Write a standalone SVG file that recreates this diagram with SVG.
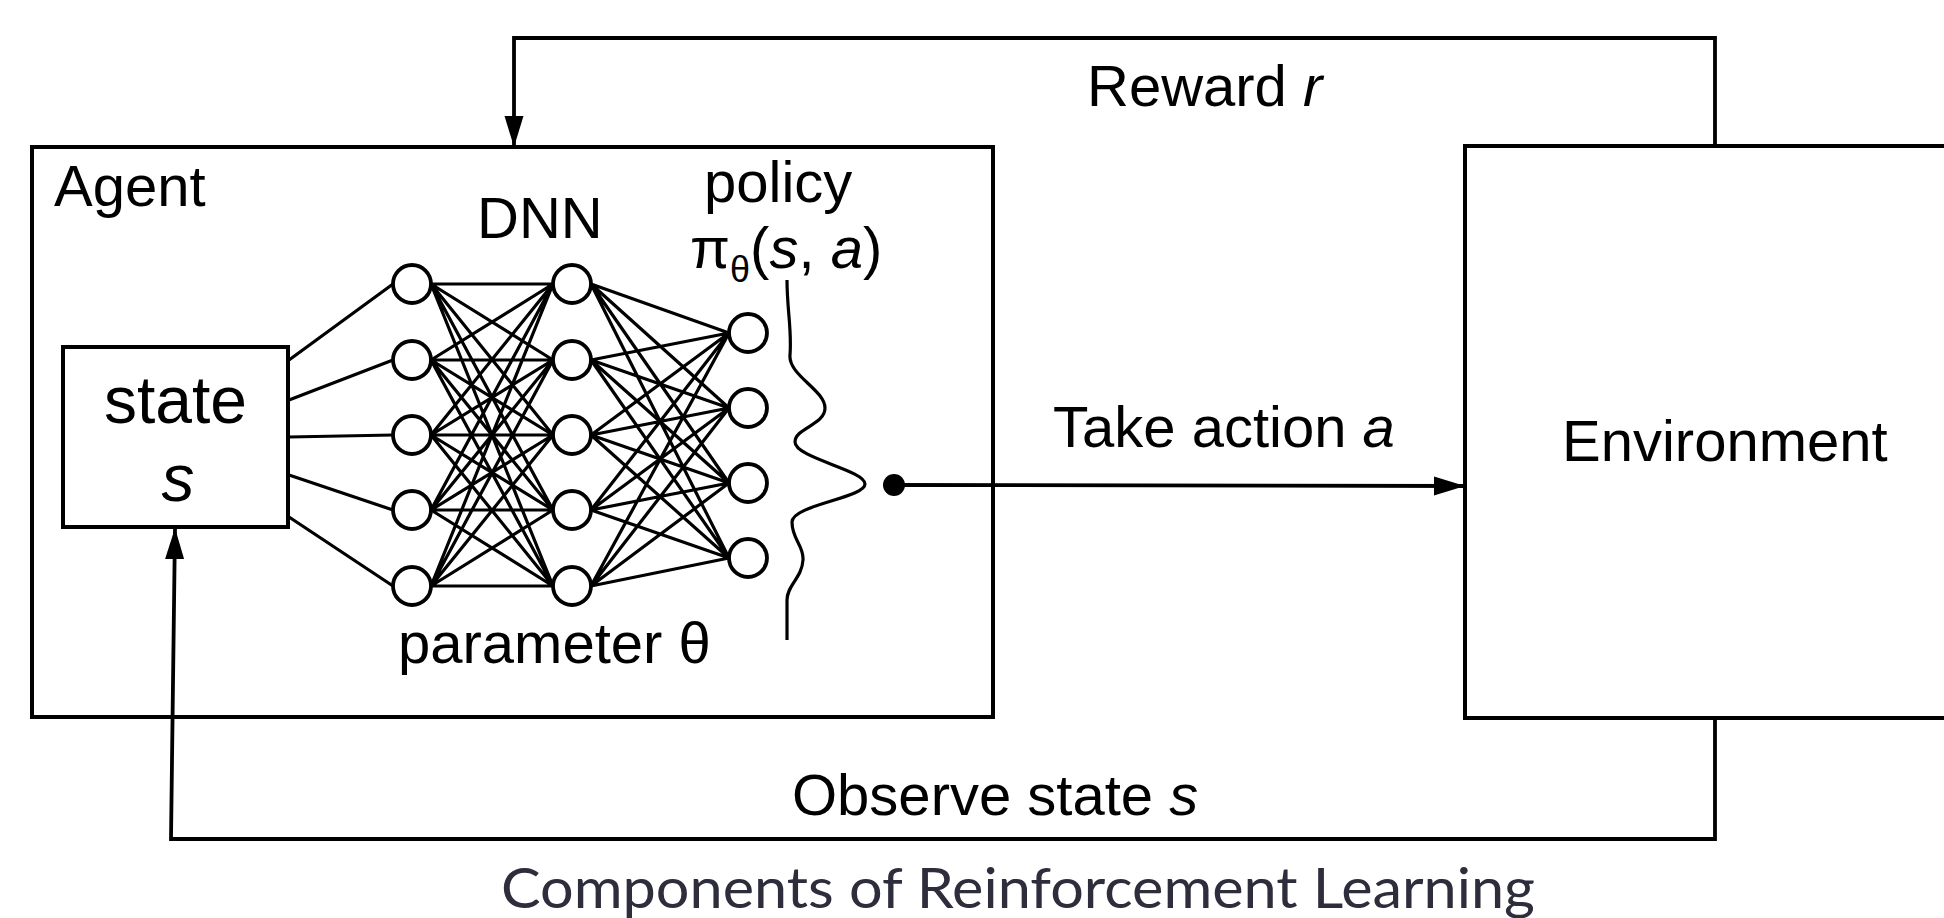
<svg xmlns="http://www.w3.org/2000/svg" width="1944" height="918" viewBox="0 0 1944 918">
  <style>
    .lbl { font-family: "Liberation Sans", Arial, sans-serif; font-size: 58px; fill: #000; }
    .big { font-size: 66px; }
    .it { font-style: italic; }
    .box { fill: #fff; stroke: #000; stroke-width: 4; }
    .wire { fill: none; stroke: #000; stroke-width: 3.2; }
    .flow { fill: none; stroke: #000; stroke-width: 3.8; }
    .neuron { fill: #fff; stroke: #000; stroke-width: 3.8; }
    .caption { font-family: Lato, "Open Sans", sans-serif; font-size: 57px; fill: #2d2d3c; }
  </style>
  <defs>
    <marker id="arrow" markerUnits="userSpaceOnUse" markerWidth="32" markerHeight="20" refX="31" refY="9.5" orient="auto">
      <path d="M0,0 L31,9.5 L0,19 z" fill="#000"/>
    </marker>
  </defs>

  <rect width="1944" height="918" fill="#fff"/>

  <!-- Agent container -->
  <g id="agent">
    <rect class="box" x="32" y="147" width="961" height="570"/>
    <text class="lbl" x="54" y="206">Agent</text>
  </g>

  <!-- Environment (runs off the right edge) -->
  <g id="environment">
    <rect class="box" x="1465" y="146" width="520" height="572"/>
    <text class="lbl" x="1562" y="461">Environment</text>
  </g>

  <!-- Neural network -->
  <g id="dnn">
    <text class="lbl" x="477" y="238">DNN</text>
    <!-- state inputs to first layer -->
    <path class="wire" d="M289 360L393 284M289 400L393 360M289 437L393 435M289 475L393 510M289 517L393 586"/>
    <!-- layer 1 to layer 2 -->
    <path class="wire" d="M431 284L553 284M431 284L553 360M431 284L553 435M431 284L553 510M431 284L553 586
      M431 360L553 284M431 360L553 360M431 360L553 435M431 360L553 510M431 360L553 586
      M431 435L553 284M431 435L553 360M431 435L553 435M431 435L553 510M431 435L553 586
      M431 510L553 284M431 510L553 360M431 510L553 435M431 510L553 510M431 510L553 586
      M431 586L553 284M431 586L553 360M431 586L553 435M431 586L553 510M431 586L553 586"/>
    <!-- layer 2 to output layer -->
    <path class="wire" d="M591 284L729 333M591 284L729 408M591 284L729 483M591 284L729 558
      M591 360L729 333M591 360L729 408M591 360L729 483M591 360L729 558
      M591 435L729 333M591 435L729 408M591 435L729 483M591 435L729 558
      M591 510L729 333M591 510L729 408M591 510L729 483M591 510L729 558
      M591 586L729 333M591 586L729 408M591 586L729 483M591 586L729 558"/>
    <circle class="neuron" cx="412" cy="284" r="19"/>
    <circle class="neuron" cx="412" cy="360" r="19"/>
    <circle class="neuron" cx="412" cy="435" r="19"/>
    <circle class="neuron" cx="412" cy="510" r="19"/>
    <circle class="neuron" cx="412" cy="586" r="19"/>
    <circle class="neuron" cx="572" cy="284" r="19"/>
    <circle class="neuron" cx="572" cy="360" r="19"/>
    <circle class="neuron" cx="572" cy="435" r="19"/>
    <circle class="neuron" cx="572" cy="510" r="19"/>
    <circle class="neuron" cx="572" cy="586" r="19"/>
    <circle class="neuron" cx="748" cy="333" r="19"/>
    <circle class="neuron" cx="748" cy="408" r="19"/>
    <circle class="neuron" cx="748" cy="483" r="19"/>
    <circle class="neuron" cx="748" cy="558" r="19"/>
    <text class="lbl" x="398" y="663">parameter θ</text>
  </g>

  <!-- Policy distribution -->
  <g id="policy">
    <text class="lbl" x="704" y="202">policy</text>
    <text class="lbl" x="690" y="268">π<tspan font-size="36" dy="14">θ</tspan><tspan dy="-14">(</tspan><tspan class="it">s</tspan>, <tspan class="it">a</tspan>)</text>
    <path class="wire" d="M787 280C787 310 792 330 790 355C788 375 825 390 825 408C825 425 795 428 795 442C795 458 865 470 865 484C865 498 792 505 792 522C792 540 804 545 803 560C802 578 787 585 787 600L787 640"/>
  </g>

  <!-- State input -->
  <g id="state">
    <rect class="box" x="63" y="347" width="225" height="180"/>
    <text class="lbl big" x="175.5" y="423" text-anchor="middle">state</text>
    <text class="lbl big it" x="178" y="501" text-anchor="middle">s</text>
  </g>

  <!-- Interaction loop -->
  <g id="connectors">
    <polyline class="flow" points="1715,147 1715,38 514,38 514,147" marker-end="url(#arrow)"/>
    <line class="flow" x1="894" y1="485" x2="1465" y2="486" marker-end="url(#arrow)"/>
    <circle cx="894" cy="485" r="11" fill="#000"/>
    <polyline class="flow" points="1715,718 1715,839 171,839 175,528" marker-end="url(#arrow)"/>
  </g>

  <text class="lbl" x="1087" y="106">Reward <tspan class="it">r</tspan></text>
  <text class="lbl" x="1053" y="447">Take action <tspan class="it">a</tspan></text>
  <text class="lbl" x="792" y="815">Observe state <tspan class="it">s</tspan></text>

  <text class="caption" x="501" y="908" textLength="1034" lengthAdjust="spacingAndGlyphs">Components of Reinforcement Learning</text>
</svg>
